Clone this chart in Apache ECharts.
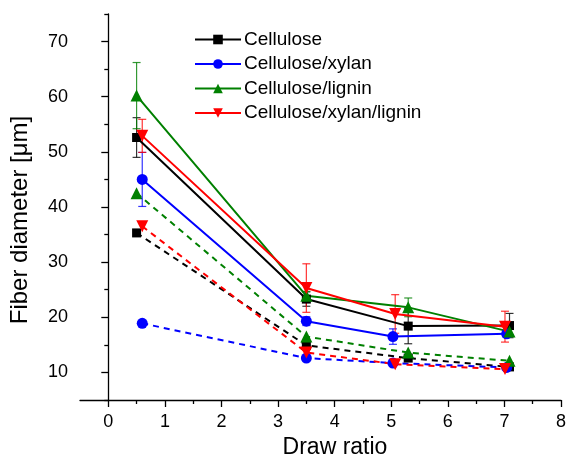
<!DOCTYPE html>
<html>
<head>
<meta charset="utf-8">
<script src="https://cdn.jsdelivr.net/npm/echarts@6/dist/echarts.min.js"></script>
<style>html,body{margin:0;padding:0;background:#fff}#c{width:568px;height:456px}</style>
</head>
<body>
<div id="c"></div>
<script>
// ---- data ----
const seriesNames = ['Cellulose', 'Cellulose/xylan', 'Cellulose/lignin', 'Cellulose/xylan/lignin'];
const colors = ['#000000', '#0000ff', '#008000', '#ff0000'];

const xCellulose = [0.5, 3.5, 5.3, 7.09];
const yCellulose = [52.6, 23.3, 18.4, 18.5];
const eCellulose = [3.6, 1.3, 3.2, 2.2];
const yCelluloseDashed = [35.3, 14.9, 12.6, 11.0];

const xXylan = [0.6, 3.5, 5.03, 7.04];
const yXylan = [45.0, 19.3, 16.5, 17.0];
const eXylan = [4.9, 0.8, 1.4, 0.6];
const yXylanDashed = [18.9, 12.6, 11.7, 10.9];

const xLignin = [0.5, 3.5, 5.3, 7.09];
const yLignin = [60.2, 23.9, 21.8, 17.4];
const eLignin = [6.0, 0.8, 1.7, 0.6];
const yLigninDashed = [42.5, 16.5, 13.6, 12.1];

const xXylanLignin = [0.6, 3.5, 5.07, 7.01];
const yXylanLignin = [52.9, 25.3, 20.6, 18.3];
const eXylanLignin = [3.0, 4.4, 3.5, 2.8];
const yXylanLigninDashed = [36.5, 13.6, 11.5, 10.6];

const xMajorTicks = [0, 1, 2, 3, 4, 5, 6, 7, 8];
const xMinorTicks = [0.5, 1.5, 2.5, 3.5, 4.5, 5.5, 6.5, 7.5];
const yMajorTicks = [10, 20, 30, 40, 50, 60, 70];
const yMinorTicks = [5, 15, 25, 35, 45, 55, 65, 75];

// ---- build ----
const groups = [
  {x: xCellulose, y: yCellulose, e: eCellulose, d: yCelluloseDashed, symbol: 'rect', size: 9, rot: 0},
  {x: xXylan, y: yXylan, e: eXylan, d: yXylanDashed, symbol: 'circle', size: 11, rot: 0},
  {x: xLignin, y: yLignin, e: eLignin, d: yLigninDashed, symbol: 'triangle', size: 12, rot: 0},
  {x: xXylanLignin, y: yXylanLignin, e: eXylanLignin, d: yXylanLigninDashed, symbol: 'triangle', size: 12, rot: 180}
];

const zip = (xs, ys) => xs.map((v, i) => [v, ys[i]]);

function errRender(color) {
  return function (params, api) {
    const xv = api.value(0);
    const hi = api.coord([xv, api.value(2)]);
    const lo = api.coord([xv, api.value(1)]);
    const w = 4;
    const st = {stroke: color, lineWidth: 1.2, opacity: 0.8};
    return {
      type: 'group',
      children: [
        {type: 'line', shape: {x1: hi[0], y1: hi[1], x2: lo[0], y2: lo[1]}, style: st},
        {type: 'line', shape: {x1: hi[0] - w, y1: hi[1], x2: hi[0] + w, y2: hi[1]}, style: st},
        {type: 'line', shape: {x1: lo[0] - w, y1: lo[1], x2: lo[0] + w, y2: lo[1]}, style: st}
      ]
    };
  };
}

const series = [];
groups.forEach((g, i) => {
  series.push({
    name: seriesNames[i] + ' (dashed)',
    type: 'line',
    data: zip(g.x, g.d),
    symbol: g.symbol, symbolSize: g.size, symbolRotate: g.rot,
    lineStyle: {color: colors[i], width: 2, type: [6, 5]},
    itemStyle: {color: colors[i]},
    z: 2
  });
});
groups.forEach((g, i) => {
  series.push({
    name: seriesNames[i] + ' err',
    type: 'custom',
    renderItem: errRender(colors[i]),
    encode: {x: 0, y: [1, 2]},
    data: g.x.map((v, k) => [v, g.y[k] - g.e[k], g.y[k] + g.e[k]]),
    z: 3
  });
});
groups.forEach((g, i) => {
  series.push({
    name: seriesNames[i],
    type: 'line',
    data: zip(g.x, g.y),
    symbol: g.symbol, symbolSize: g.size, symbolRotate: g.rot,
    lineStyle: {color: colors[i], width: 2},
    itemStyle: {color: colors[i]},
    z: 4
  });
});

const font = 'Liberation Sans, Arial, sans-serif';
const chart = echarts.init(document.getElementById('c'));
chart.setOption({
  animation: false,
  backgroundColor: '#fff',
  grid: {left: 80, right: 7, top: 14, bottom: 56, containLabel: false, outerBoundsMode: 'none'},
  legend: {
    data: seriesNames,
    orient: 'vertical',
    left: 189, top: 25,
    itemWidth: 46, itemHeight: 12, itemGap: 5.5,
    textStyle: {fontSize: 19, color: '#000', fontFamily: font, padding: [0, 0, 0, -2]}
  },
  xAxis: [{
    type: 'value', min: -0.5, max: 8,
    name: 'Draw ratio', nameLocation: 'middle', nameGap: 33,
    nameTextStyle: {fontSize: 23, color: '#000', fontFamily: font, padding: [0, 0, 0, 29]},
    axisLine: {lineStyle: {color: '#000', width: 1.3}},
    axisTick: {customValues: xMajorTicks, length: 7, lineStyle: {color: '#000', width: 1.3}},
    axisLabel: {customValues: xMajorTicks, fontSize: 18, color: '#000', fontFamily: font, margin: 13},
    splitLine: {show: false}
  }, {
    type: 'value', min: -0.5, max: 8, position: 'bottom',
    axisLine: {show: false},
    axisTick: {customValues: xMinorTicks, length: 4, lineStyle: {color: '#000', width: 1.3}},
    axisLabel: {show: false},
    splitLine: {show: false}
  }],
  yAxis: [{
    type: 'value', min: 5, max: 75,
    name: 'Fiber diameter [μm]', nameLocation: 'middle', nameGap: 48,
    nameTextStyle: {fontSize: 24, color: '#000', fontFamily: font, padding: [0, 26, 0, 0]},
    axisLine: {show: true, lineStyle: {color: '#000', width: 1.3}},
    axisTick: {show: true, customValues: yMajorTicks, length: 7, lineStyle: {color: '#000', width: 1.3}},
    axisLabel: {customValues: yMajorTicks, fontSize: 18, color: '#000', fontFamily: font, margin: 12},
    splitLine: {show: false}
  }, {
    type: 'value', min: 5, max: 75, position: 'left',
    axisLine: {show: false},
    axisTick: {show: true, customValues: yMinorTicks, length: 4, lineStyle: {color: '#000', width: 1.3}},
    axisLabel: {show: false},
    splitLine: {show: false}
  }],
  series: series
});
</script>
</body>
</html>
